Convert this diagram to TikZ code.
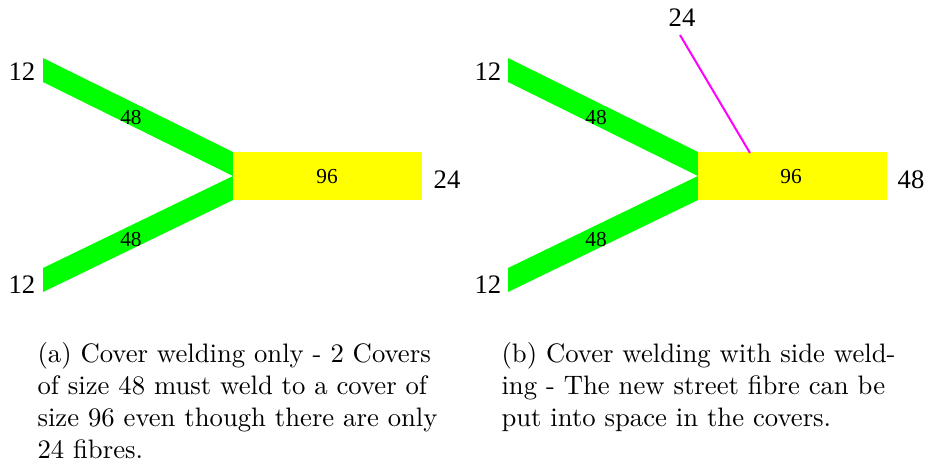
\documentclass[tikz,border=0pt]{standalone}
\usepackage{fontspec}
\newfontfamily\labfont{Liberation Serif}
\definecolor{bandgreen}{RGB}{0,255,0}
\definecolor{coveryellow}{RGB}{255,255,0}
\definecolor{sidemagenta}{RGB}{255,0,255}
\begin{document}
\begin{tikzpicture}[x=0.3746pt,y=-0.3746pt,
  band/.style={fill=bandgreen,draw=none},
  cover/.style={fill=coveryellow,draw=none},
  biglab/.style={font=\labfont\fontsize{10}{12}\selectfont,inner sep=0pt},
  smalllab/.style={font=\labfont\fontsize{8}{10}\selectfont,inner sep=0pt},
  side/.style={draw=sidemagenta,line width=0.75pt},
  capt/.style={anchor=base west,inner sep=0pt,text width=149.5pt,align=left,font=\fontsize{10}{12}\selectfont}]
\useasboundingbox (0,0) rectangle (929,470);
% panel (a)
\fill[band] (43,58) -- (43,82) -- (233,176) -- (233,152) -- cycle;
\fill[band] (43,268) -- (43,292) -- (233,200) -- (233,176) -- cycle;
\fill[cover] (233,152) rectangle (422,200);
\node[smalllab] (a48u) at (131,117) {48};
\node[smalllab] (a48l) at (131,239) {48};
\node[smalllab] (a96) at (327,177) {96};
\node[biglab] (a12u) at (22,72) {12};
\node[biglab] (a12l) at (22,285) {12};
\node[biglab] (a24) at (447,180) {24};
% panel (b)
\begin{scope}[shift={(465,0)}]
\fill[band] (43,58) -- (43,82) -- (233,176) -- (233,152) -- cycle;
\fill[band] (43,268) -- (43,292) -- (233,200) -- (233,176) -- cycle;
\fill[cover] (233,152) rectangle (422,200);
\node[smalllab] (b48u) at (131,117) {48};
\node[smalllab] (b48l) at (131,239) {48};
\node[smalllab] (b96) at (326,177) {96};
\node[biglab] (b12u) at (23,72) {12};
\node[biglab] (b12l) at (23,285) {12};
\node[biglab] (b48) at (446,180) {48};
\node[biglab] (b24) at (217,18) {24};
\coordinate (bweld) at (285,153);
\draw[side] (215,35) -- (bweld);
\end{scope}
% captions
\node[capt] (capa) at (37,362) {\makebox[\linewidth][s]{(a) Cover welding only - 2 Covers}\\
\makebox[\linewidth][s]{of size 48 must weld to a cover of}\\
\makebox[\linewidth][s]{size 96 even though there are only}\\
24 fibres.};
\node[capt] (capb) at (501,362) {\makebox[\linewidth][s]{(b) Cover welding with side weld-}\\
\makebox[\linewidth][s]{ing - The new street fibre can be}\\
put into space in the covers.};
\end{tikzpicture}
\end{document}
